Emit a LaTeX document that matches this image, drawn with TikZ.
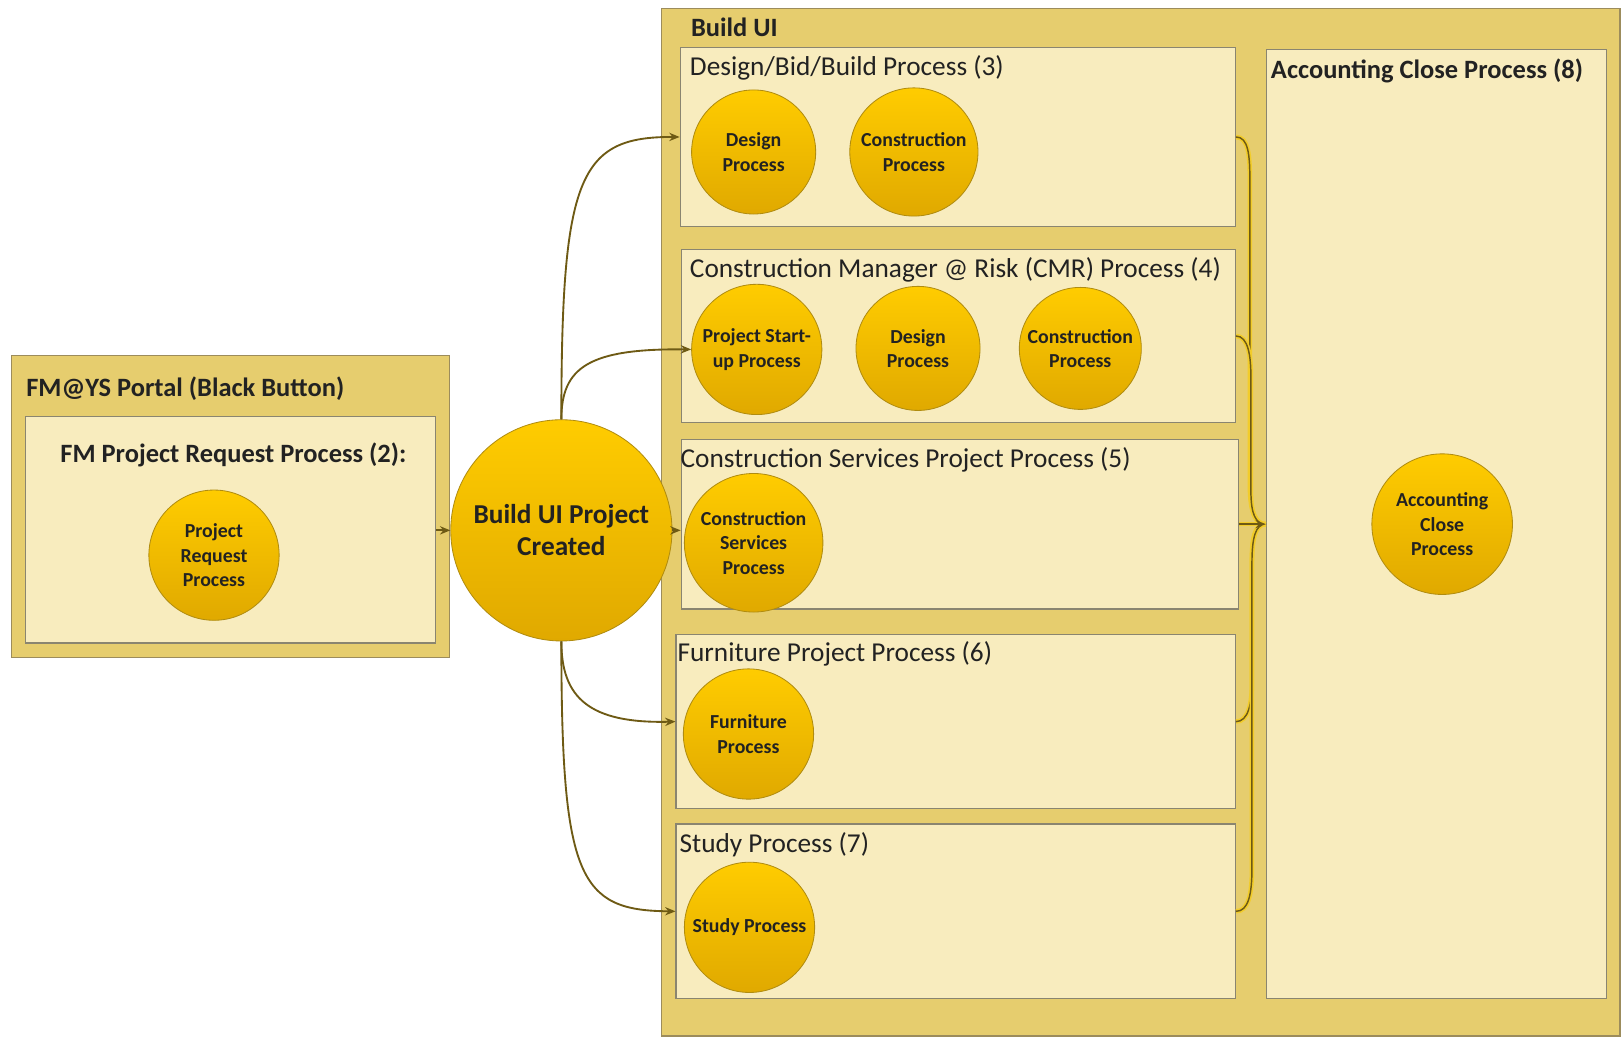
\documentclass[tikz,border=0pt]{standalone}
\usepackage{fontspec}
\setmainfont{Carlito}
\usetikzlibrary{fit,arrows.meta,calc}
\definecolor{outerfill}{HTML}{E6CD6E}
\definecolor{outerdraw}{HTML}{9C8C5C}
\definecolor{innerfill}{HTML}{F8ECBE}
\definecolor{innerdraw}{HTML}{8A8570}
\definecolor{circtop}{HTML}{FFCC00}
\definecolor{circbot}{HTML}{E0A900}
\definecolor{circdraw}{HTML}{B08C10}
\definecolor{conncol}{HTML}{6E5A14}
\definecolor{glowcol}{HTML}{F2CC2A}
\definecolor{txt}{HTML}{222222}
\tikzset{
  outerbox/.style={draw=outerdraw, fill=outerfill, line width=0.6pt, inner sep=0pt},
  innerbox/.style={draw=innerdraw, fill=innerfill, line width=0.6pt, inner sep=0pt},
  proc/.style={circle, draw=circdraw, line width=0.4pt, top color=circtop, bottom color=circbot,
    align=center, text=txt, inner sep=0pt, font=\bfseries\fontsize{9.6}{11.8}\selectfont},
  boxtitle/.style={anchor=west, inner sep=0pt, text=txt, font=\fontsize{13.2}{15}\selectfont},
  boldtitle/.style={boxtitle, font=\bfseries\fontsize{12.8}{15}\selectfont},
  conn/.style={draw=conncol, line width=0.9pt, -{Stealth[length=5pt,width=4pt]}},
  glowconn/.style={draw=conncol, line width=0.7pt, preaction={draw=glowcol, line width=2.2pt, -}}
}
\begin{document}
\begin{tikzpicture}[x=0.5pt,y=-0.5pt]
\fill[white] (0,0) rectangle (1568,1003);
\useasboundingbox (0,0) rectangle (1568,1003);

% FM@YS portal
\node[outerbox, fit={(11,344) (435,636)}] (portal) {};
\node[innerbox, fit={(25,403) (421,622)}] (fmbox) {};
\node[boldtitle] (portalt) at (25,376) {FM@YS Portal (Black Button)};
\node[boldtitle] (fmt) at (58,440) {FM Project Request Process (2):};
\node[proc, minimum size=63pt] (prp) at (207,537) {Project\\Request\\Process};

% Build UI
\node[outerbox, fit={(640,8) (1567,1002)}] (buildui) {};
\node[boldtitle] (builduit) at (668,26) {Build UI};

\node[innerbox, fit={(658,46) (1195,219)}] (dbb) {};
\node[boxtitle] (dbbt) at (667,66) {Design/Bid/Build Process (3)};
\node[proc, minimum size=60pt] (dbbd) at (729,147) {Design\\Process};
\node[proc, minimum size=62pt] (dbbc) at (884,147) {Construction\\Process};

\node[innerbox, fit={(659,241) (1195,409)}] (cmr) {};
\node[boxtitle] (cmrt) at (667,261) {Construction Manager @ Risk (CMR) Process (4)};
\node[proc, minimum size=63pt] (psu) at (732,338) {Project Start-\\up Process};
\node[proc, minimum size=60pt] (cmrd) at (888,337) {Design\\Process};
\node[proc, minimum size=59pt] (cmrc) at (1045,337) {Construction\\Process};

\node[innerbox, fit={(659,425) (1198,589)}] (csbox) {};
\node[boxtitle] (cst) at (658,445) {Construction Services Project Process (5)};
\node[proc, minimum size=67pt] (csp) at (729,525) {Construction\\Services\\Process};

\node[innerbox, fit={(654,614) (1195,782)}] (furn) {};
\node[boxtitle] (furnt) at (655,632) {Furniture Project Process (6)};
\node[proc, minimum size=63pt] (furnp) at (724,710) {Furniture\\Process};

\node[innerbox, fit={(654,797) (1195,966)}] (study) {};
\node[boxtitle] (studyt) at (657,817) {Study Process (7)};
\node[proc, minimum size=63pt] (studyp) at (725,897) {Study Process};

\node[innerbox, fit={(1225,48) (1554,966)}] (acc) {};
\node[boldtitle] (acct) at (1229,69) {Accounting Close Process (8)};
\node[proc, minimum size=68pt] (accp) at (1395,507) {Accounting\\Close\\Process};

% central node
\node[proc, minimum size=107pt, font=\bfseries\fontsize{13.2}{15.5}\selectfont] (big) at (543,513) {Build UI Project\\Created};

% connectors left
\draw[conn] (fmbox.east |- big.west) -- (big.west);
\draw[conn] (big.north) .. controls (543,170) and (560,132) .. (dbb.west);
\draw[conn] (big.north) .. controls (543,355) and (570,337) .. (psu.west);
\draw[conn] (big.east) -- (big.east -| csbox.west);
\draw[conn] (big.south) .. controls (543,675) and (570,700) .. (furn.west);
\draw[conn] (big.south) .. controls (543,850) and (560,881) .. (study.west);

% merging connectors right
\coordinate (M) at (acc.west);
\draw[glowconn] (dbb.east) .. controls +(12,0) and +(0,-25) .. (1209,175) -- (1209,470) .. controls +(0,25) and +(-10,0) .. (M);
\draw[glowconn] (cmr.east) .. controls +(12,0) and +(0,-20) .. (1210,365) -- (1210,475) .. controls +(0,22) and +(-10,0) .. (M);
\draw[glowconn] (furn.east) .. controls +(12,0) and +(0,20) .. (1211,660) -- (1211,540) .. controls +(0,-22) and +(-10,0) .. (M);
\draw[glowconn] (study.east) .. controls +(12,0) and +(0,25) .. (1211,840) -- (1211,545) .. controls +(0,-25) and +(-10,0) .. (M);
\draw[glowconn, -{Stealth[length=5pt,width=4pt]}] (csbox.east) -- (M);
\end{tikzpicture}
\end{document}
